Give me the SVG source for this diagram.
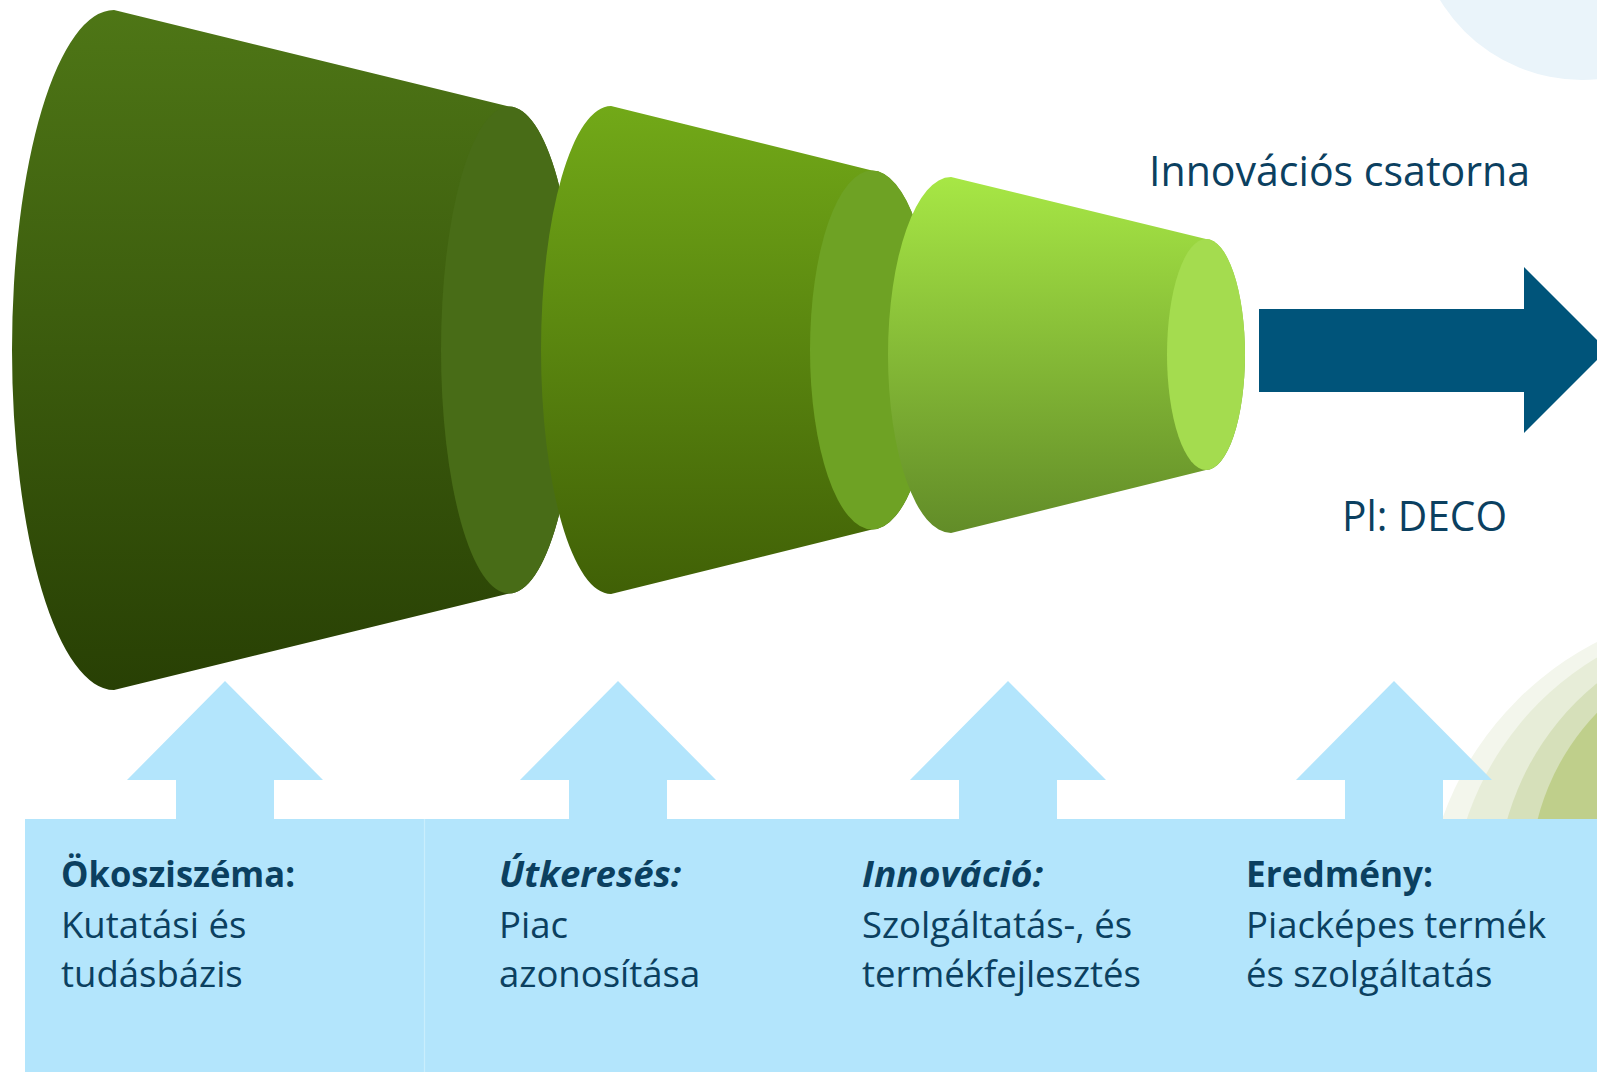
<svg xmlns="http://www.w3.org/2000/svg" width="1597" height="1072" viewBox="0 0 1597 1072">
  <defs>
    <linearGradient id="g1" x1="0" y1="0" x2="0" y2="1">
      <stop offset="0" stop-color="#4e7616"/>
      <stop offset="1" stop-color="#284004"/>
    </linearGradient>
    <linearGradient id="g2" x1="0" y1="0" x2="0" y2="1">
      <stop offset="0" stop-color="#72a918"/>
      <stop offset="1" stop-color="#406006"/>
    </linearGradient>
    <linearGradient id="g3" x1="0" y1="0" x2="0" y2="1">
      <stop offset="0" stop-color="#a7e745"/>
      <stop offset="1" stop-color="#628c28"/>
    </linearGradient>
    <style>
      .lbl { font-family: "Open Sans", "Noto Sans", "DejaVu Sans", sans-serif; fill: #0b4060; }
      .big { font-size: 42px; }
      .body { font-size: 36.5px; }
      .b { font-weight: bold; }
      .bi { font-weight: bold; font-style: italic; }
      .up { fill: #b3e5fc; }
    </style>
  </defs>

  <rect width="1597" height="1072" fill="#ffffff"/>

  <!-- decorative background circles -->
  <g id="decor">
    <circle cx="1582" cy="-86" r="166" fill="#eaf4fa"/>
    <circle cx="1742" cy="925" r="318" fill="#f3f6ec"/>
    <circle cx="1751" cy="915" r="300" fill="#e7edd8"/>
    <circle cx="1767" cy="893" r="270" fill="#d6e0ba"/>
    <circle cx="1770" cy="879" r="240" fill="#bfcf8b"/>
  </g>

  <!-- funnel cones -->
  <g id="cone1">
    <path d="M114,10 A102,340 0 0 0 114,690 L509,593.5 A68,243.5 0 0 0 509,106.5 Z" fill="url(#g1)"/>
    <ellipse cx="509" cy="350" rx="68" ry="243.5" fill="#486c17"/>
  </g>
  <g id="cone2">
    <path d="M611,106 A70,244 0 0 0 611,594 L872,529.5 A62,179.5 0 0 0 872,170.5 Z" fill="url(#g2)"/>
    <ellipse cx="872" cy="350" rx="62" ry="179.5" fill="#6ea224"/>
  </g>
  <g id="cone3">
    <path d="M951,177 A63,178 0 0 0 951,533 L1206,470 A39,115.5 0 0 0 1206,239 Z" fill="url(#g3)"/>
    <ellipse cx="1206" cy="354.5" rx="39" ry="115.5" fill="#a4dc4f"/>
  </g>

  <!-- connectors -->
  <g id="connectors">
    <polygon id="main-arrow" points="1259,309 1524,309 1524,267 1607,350 1524,433 1524,392 1259,392" fill="#00547a"/>
    <polygon class="up" points="225,681 323,780 274,780 274,820 176,820 176,780 127,780"/>
    <polygon class="up" points="618,681 716,780 667,780 667,820 569,820 569,780 520,780"/>
    <polygon class="up" points="1008,681 1106,780 1057,780 1057,820 959,820 959,780 910,780"/>
    <polygon class="up" points="1394,681 1492,780 1443,780 1443,820 1345,820 1345,780 1296,780"/>
  </g>

  <!-- bottom box -->
  <g id="stages-box">
    <rect x="25" y="819" width="1572" height="253" fill="#b3e5fc"/>
    <line x1="424.5" y1="819" x2="424.5" y2="1072" stroke="#c9eefd" stroke-width="1.2"/>
  </g>

  <g id="label-channel">
    <text class="lbl big" x="1149" y="186" textLength="381" lengthAdjust="spacingAndGlyphs">Innovációs csatorna</text>
  </g>
  <g id="label-example">
    <text class="lbl big" x="1342" y="531" textLength="165" lengthAdjust="spacingAndGlyphs">Pl: DECO</text>
  </g>

  <g id="stage1">
    <text class="lbl body b" x="61" y="887" textLength="234" lengthAdjust="spacingAndGlyphs">Ökosziszéma:</text>
    <text class="lbl body" x="61" y="938">Kutatási és</text>
    <text class="lbl body" x="61" y="987">tudásbázis</text>
  </g>
  <g id="stage2">
    <text class="lbl body bi" x="499" y="887">Útkeresés:</text>
    <text class="lbl body" x="499" y="938">Piac</text>
    <text class="lbl body" x="499" y="987">azonosítása</text>
  </g>
  <g id="stage3">
    <text class="lbl body bi" x="862" y="887" textLength="181" lengthAdjust="spacingAndGlyphs">Innováció:</text>
    <text class="lbl body" x="862" y="938">Szolgáltatás-, és</text>
    <text class="lbl body" x="862" y="987">termékfejlesztés</text>
  </g>
  <g id="stage4">
    <text class="lbl body b" x="1246" y="887" textLength="187" lengthAdjust="spacingAndGlyphs">Eredmény:</text>
    <text class="lbl body" x="1246" y="938">Piacképes termék</text>
    <text class="lbl body" x="1246" y="987">és szolgáltatás</text>
  </g>
</svg>
